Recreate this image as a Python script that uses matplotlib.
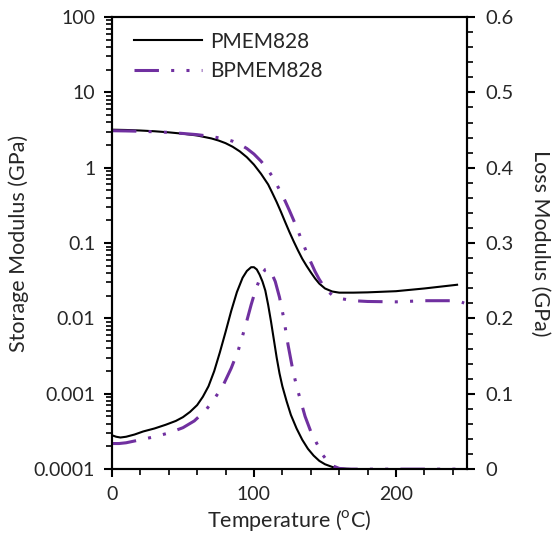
import numpy as np
import matplotlib
matplotlib.use('Agg')
import matplotlib.pyplot as plt
from matplotlib.ticker import FixedLocator, MultipleLocator, FuncFormatter, LogLocator, NullFormatter

plt.rcParams['font.family'] = ['Lato', 'DejaVu Sans']

# Storage modulus (GPa), left log axis
t_sto_p = [0, 10, 20, 30, 40, 50, 60, 70, 75, 80, 85, 90, 95, 100, 105, 110, 113, 116, 119, 122, 125, 128, 131, 134, 137,
           140, 143, 146, 150, 155, 160, 170, 180, 200, 220, 243]
sto_p = [3.2, 3.17, 3.12, 3.05, 2.95, 2.83, 2.68, 2.45, 2.3, 2.12, 1.9, 1.65, 1.38, 1.1, 0.83, 0.6, 0.46, 0.35, 0.26, 0.19,
         0.14, 0.105, 0.08, 0.062, 0.05, 0.041, 0.034, 0.029, 0.025, 0.0228, 0.022, 0.022, 0.0222, 0.023, 0.025, 0.028]

t_sto_b = [0, 10, 20, 30, 40, 50, 60, 70, 80, 85, 90, 95, 100, 105, 110, 113, 116, 119, 122, 125, 128, 131, 134, 137, 140,
           143, 146, 149, 152, 155, 160, 170, 180, 200, 220, 240, 245, 248]
sto_b = [3.1, 3.08, 3.05, 3.0, 2.95, 2.85, 2.75, 2.6, 2.4, 2.25, 2.05, 1.8, 1.52, 1.22, 0.93, 0.76, 0.6, 0.47, 0.36, 0.27,
         0.2, 0.145, 0.105, 0.076, 0.056, 0.042, 0.033, 0.027, 0.023, 0.0205, 0.0185, 0.0172, 0.0168, 0.0166, 0.0172,
         0.0172, 0.0168, 0.016]

# Loss modulus (GPa), right linear axis
t_loss_p = [0, 3, 6, 10, 16, 22, 30, 38, 45, 50, 55, 60, 64, 68, 72, 76, 80, 84, 88, 92, 95, 98, 100, 102, 104, 106, 108,
            110, 112, 114, 116, 118, 120, 123, 126, 130, 134, 138, 142, 146, 150, 155, 160, 170, 243]
loss_p = [0.045, 0.043, 0.042, 0.043, 0.046, 0.05, 0.054, 0.059, 0.064, 0.069, 0.076, 0.085, 0.096, 0.11, 0.13, 0.155,
          0.182, 0.21, 0.235, 0.254, 0.263, 0.268, 0.268, 0.265, 0.258, 0.249, 0.237, 0.218, 0.196, 0.172, 0.148, 0.127,
          0.11, 0.09, 0.072, 0.054, 0.039, 0.027, 0.018, 0.011, 0.0065, 0.003, 0.001, 0, 0]

t_loss_b = [0, 5, 10, 20, 30, 40, 50, 58, 66, 72, 78, 84, 89, 92, 95, 98, 101, 104, 106, 108, 110, 112, 115, 118, 121, 124,
            127, 130, 133, 136, 140, 144, 148, 152, 156, 160, 165, 250]
loss_b = [0.034, 0.034, 0.035, 0.039, 0.043, 0.048, 0.055, 0.064, 0.078, 0.093, 0.11, 0.134, 0.158, 0.177, 0.197, 0.218,
          0.237, 0.252, 0.26, 0.265, 0.266, 0.262, 0.249, 0.228, 0.2, 0.165, 0.135, 0.11, 0.09, 0.07, 0.05, 0.035, 0.02,
          0.01, 0.004, 0.001, 0, 0]

left_ticks = [1e-4, 1e-3, 1e-2, 1e-1, 1, 10, 100]
left_labels = ['0.0001', '0.001', '0.01', '0.1', '1', '10', '100']

purple = '#7030a0'
dashdot2 = (0, (8, 4, 1, 4, 1, 4))
txt = '#262626'


def left_fmt(v, pos):
    i = int(np.argmin([abs(np.log10(k) - np.log10(v)) for k in left_ticks]))
    return left_labels[i]


fig = plt.figure(figsize=(5.54, 5.5), dpi=100)
ax = fig.add_axes([0.202, 0.147, 0.641, 0.822])
ax2 = ax.twinx()

ax.plot(t_sto_p, sto_p, color='black', lw=1.5, label='PMEM828')
ax.plot(t_sto_b, sto_b, color=purple, lw=2.2, ls=dashdot2, label='BPMEM828')
ax2.plot(t_loss_p, loss_p, color='black', lw=1.5)
ax2.plot(t_loss_b, loss_b, color=purple, lw=2.2, ls=dashdot2)

ax.set_yscale('log')
ax.set_ylim(1e-4, 100)
ax.set_xlim(0, 250)
ax2.set_ylim(0, 0.6)

ax.yaxis.set_major_locator(FixedLocator(left_ticks))
ax.yaxis.set_major_formatter(FuncFormatter(left_fmt))
ax.yaxis.set_minor_locator(LogLocator(base=10, subs=np.arange(2, 10), numticks=20))
ax.yaxis.set_minor_formatter(NullFormatter())

ax.xaxis.set_major_locator(MultipleLocator(100))
ax.xaxis.set_minor_locator(MultipleLocator(20))
ax2.yaxis.set_major_locator(MultipleLocator(0.1))
ax2.yaxis.set_minor_locator(MultipleLocator(0.02))
ax2.yaxis.set_major_formatter(FuncFormatter(lambda v, p: '0' if abs(v) < 1e-9 else f'{v:.1f}'))

for a in (ax, ax2):
    for s in a.spines.values():
        s.set_linewidth(1.5)
ax.tick_params(axis='both', which='major', direction='out', length=6, width=1.5, labelsize=14, pad=6,
               labelcolor=txt)
ax.tick_params(axis='both', which='minor', direction='out', length=4, width=1.2)
ax2.tick_params(axis='y', which='major', direction='out', length=6, width=1.5, labelsize=14.5, pad=7,
                labelcolor=txt)
ax2.tick_params(axis='y', which='minor', direction='out', length=4, width=1.2)

ax.set_xlabel('Temperature (' + r'$^{\mathregular{o}}$' + 'C)', fontsize=15.5, color=txt)
ax.set_ylabel('Storage Modulus (GPa)', fontsize=15.5, color=txt)
ax2.set_ylabel('Loss Modulus (GPa)', fontsize=15.5, rotation=270, color=txt, va='center')
ax.xaxis.set_label_coords(0.5, -0.086)
ax.yaxis.set_label_coords(-0.234, 0.5)
ax2.yaxis.set_label_coords(1.206, 0.5)

leg = ax.legend(loc='upper left', frameon=False, fontsize=15, handlelength=3.3,
                bbox_to_anchor=(0.02, 1.0), borderaxespad=0.3, labelspacing=0.45, handletextpad=0.35)
for t in leg.get_texts():
    t.set_color(txt)

fig.savefig('out.png', dpi=100)
